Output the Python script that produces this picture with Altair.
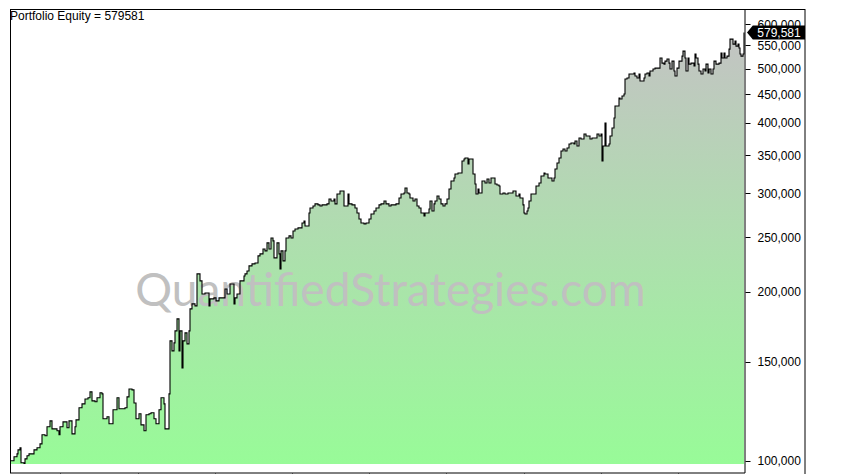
import altair as alt
import pandas as pd

# time index (bars) and portfolio equity
bars = [0, 3, 6, 7, 9, 10, 13, 14, 16, 18, 21, 23, 26, 29, 31, 34, 36, 39, 41, 44,
        46, 48, 49, 52, 56, 58, 61, 64, 65, 68, 71, 74, 77, 79, 81, 84, 86, 89, 91, 92,
        96, 98, 102, 106, 108, 112, 114, 116, 118, 121, 123, 125, 128, 130, 133, 135, 138, 140, 143, 145,
        148, 150, 153, 154, 156, 158, 159, 161, 163, 164, 166, 168, 169, 171, 172, 174, 176, 178, 179, 181,
        184, 186, 188, 189, 191, 194, 198, 199, 203, 205, 208, 211, 214, 216, 219, 223, 224, 226, 229, 233,
        234, 236, 238, 241, 244, 247, 249, 252, 254, 256, 258, 260, 262, 263, 265, 266, 268, 269, 270, 272,
        274, 275, 278, 280, 282, 284, 287, 289, 291, 293, 294, 296, 298, 299, 302, 304, 307, 309, 311, 314,
        316, 318, 320, 323, 324, 326, 329, 332, 333, 335, 337, 338, 341, 344, 346, 348, 350, 353, 355, 358,
        360, 363, 365, 368, 370, 373, 375, 378, 380, 383, 385, 388, 390, 393, 394, 396, 398, 399, 402, 404,
        406, 408, 410, 413, 414, 416, 418, 419, 421, 423, 424, 426, 428, 430, 432, 434, 436, 438, 440, 443,
        444, 447, 449, 451, 453, 454, 457, 458, 460, 462, 464, 465, 467, 468, 471, 474, 476, 478, 480, 483,
        484, 486, 488, 489, 492, 494, 497, 499, 502, 504, 505, 508, 509, 512, 513, 514, 516, 517, 518, 520,
        523, 525, 527, 528, 530, 533, 534, 537, 539, 541, 543, 544, 546, 548, 550, 552, 554, 556, 558, 560,
        563, 564, 566, 568, 570, 573, 575, 578, 579, 581, 584, 586, 588, 590, 591, 592, 594, 595, 597, 598,
        599, 601, 603, 604, 606, 608, 609, 611, 613, 614, 616, 618, 620, 623, 624, 626, 628, 629, 631, 633,
        634, 636, 638, 639, 642, 644, 647, 649, 651, 653, 654, 656, 658, 659, 661, 663, 664, 666, 668, 669,
        671, 672, 674, 675, 677, 678, 680, 683, 684, 685, 687, 688, 690, 692, 694, 695, 697, 698, 700, 702,
        703, 705, 707, 708, 710, 711, 713, 714, 716, 718, 719, 722, 724, 725, 727, 728, 729, 730, 732, 733]

equity = [100000, 101700, 102900, 104600, 105500, 99200, 98900, 100800, 102100, 102900,
          102900, 104600, 105500, 107200, 111300, 110800, 115000, 117800, 114000, 114000,
          113100, 111300, 115000, 117300, 114500, 117800, 111700, 115000, 118300, 124300,
          126300, 128900, 129500, 132700, 127900, 127400, 129500, 132200, 131600, 118800,
          119800, 116400, 123300, 129500, 123800, 123800, 124300, 130000, 134300, 133800,
          126800, 118800, 121300, 115900, 113100, 120800, 121300, 121800, 118800, 116400,
          123300, 129500, 126300, 114000, 114000, 131600, 163600, 157000, 162200, 170400,
          179000, 157000, 170400, 146400, 163600, 169000, 161600, 170400, 186500, 190400,
          188800, 215300, 215300, 209200, 198300, 199100, 188800, 194300, 195100, 192700,
          195100, 195100, 202400, 198300, 206600, 190400, 195100, 198300, 209200, 213500,
          215300, 217900, 222500, 224300, 225200, 231800, 233700, 238400, 236600, 244500,
          238400, 249500, 246500, 229900, 229900, 244500, 233700, 219700, 236600, 227100,
          236600, 249500, 251600, 249500, 256800, 258900, 260000, 260000, 265300, 267500,
          262100, 262100, 276400, 282200, 284500, 287000, 285800, 284500, 285800, 285800,
          287000, 292800, 290400, 292800, 287000, 298800, 302500, 302500, 284500, 284500,
          298800, 287000, 285800, 282200, 276400, 269700, 265300, 264300, 265300, 269700,
          275300, 278700, 282200, 285800, 287000, 290400, 287000, 284500, 285800, 285800,
          287000, 294000, 298800, 300100, 306300, 300100, 298800, 294000, 290400, 292800,
          284500, 282200, 276400, 273000, 276400, 276400, 281000, 290400, 278700, 287000,
          290400, 296400, 292800, 287000, 284500, 287000, 292800, 305000, 315200, 319100,
          324400, 325700, 325700, 342100, 345000, 346400, 338000, 345000, 345000, 324400,
          311300, 298800, 305000, 300100, 315200, 312600, 317800, 312600, 319100, 319100,
          311300, 310100, 308800, 298800, 300100, 298800, 300100, 300100, 302500, 302500,
          296400, 298800, 294000, 285800, 276400, 275300, 278700, 282200, 290400, 298800,
          298800, 308800, 308800, 312600, 321800, 325700, 324400, 319100, 319100, 315200,
          319100, 331100, 339400, 346400, 356500, 359400, 356500, 360900, 366900, 368400,
          366900, 371400, 363900, 376000, 374400, 382200, 379100, 379100, 374400, 376000,
          376000, 382200, 379100, 382200, 342100, 363900, 399800, 363900, 363900, 366900,
          379100, 391700, 408100, 428700, 428700, 442900, 441100, 446600, 450300, 478900,
          480900, 488800, 488800, 490800, 484900, 480900, 488800, 475000, 475000, 480900,
          488800, 490800, 484900, 494800, 498900, 500900, 500900, 521900, 511300, 509200,
          515500, 519800, 511300, 498900, 515500, 494800, 484900, 500900, 515500, 515500,
          526100, 537100, 521900, 494800, 521900, 509200, 511300, 505100, 530600, 521900,
          509200, 494800, 488800, 498900, 494800, 509200, 490800, 498900, 488800, 498900,
          515500, 509200, 509200, 511300, 532700, 521900, 532700, 521900, 526100, 541500,
          564200, 552700, 559600, 548200, 552700, 543800, 530600, 526100, 530600, 579581]

area_base = 98700
y_ticks = [100000, 150000, 200000, 250000, 300000, 350000, 400000, 450000, 500000, 550000, 600000]
x_ticks = [49.3, 126.5, 203.7, 280.9, 358.1, 435.3, 512.5, 589.7, 666.9]
title_text = ["Portfolio Equity = 579581"]
watermark = ["QuantifiedStrategies.com"]
last_label = ["579,581"]
last_value = [579581]

df = pd.DataFrame({"bar": bars, "equity": equity})
df["base"] = area_base
df_last = pd.DataFrame({"equity": last_value, "label": last_label})

FONT = "Liberation Sans"
W, H = 735, 455      # plot area; area fill base = bottom of the y range
FRAME_B = 464        # bottom frame line a few px below the fill

x_scale = alt.Scale(domain=[-1, 734], nice=False, zero=False)
y_scale = alt.Scale(type="log", domain=[area_base, 638300], nice=False)

x_enc = alt.X("bar:Q", scale=x_scale,
              axis=alt.Axis(values=x_ticks, labels=False, title=None, grid=False,
                            domain=False, ticks=True, tickSize=5, tickColor="black",
                            offset=FRAME_B - H))
y_axis = alt.Axis(orient="right", values=y_ticks, format=",d", title=None,
                  grid=False, domain=False, tickSize=5, tickColor="black",
                  labelFont=FONT, labelFontSize=12, labelColor="black",
                  labelPadding=7, labelOverlap=False, labelFlush=False)
y_enc = alt.Y("equity:Q", scale=y_scale, axis=y_axis)

gradient = alt.Gradient(
    gradient="linear",
    stops=[alt.GradientStop(color="#98FB98", offset=0),
           alt.GradientStop(color="#C3C3C3", offset=1)],
    x1=1, x2=1, y1=1, y2=0)

area = alt.Chart(df).mark_area(interpolate="step-after", color=gradient, opacity=1).encode(
    x=x_enc,
    y=alt.Y("equity:Q", scale=y_scale, axis=y_axis, stack=None),
    y2=alt.Y2("base:Q"))

wm = alt.Chart(pd.DataFrame({"t": watermark})).mark_text(
    font="Lato", fontSize=46, fontWeight="normal", color="#C0C0C0",
    align="center", baseline="alphabetic").encode(
    text="t:N", x=alt.value(380.5), y=alt.value(297))

line = alt.Chart(df).mark_line(interpolate="step-after", color="black", strokeWidth=1.1).encode(
    x=x_enc, y=y_enc)

title = alt.Chart(pd.DataFrame({"t": title_text})).mark_text(
    font=FONT, fontSize=12, color="black", align="left", baseline="alphabetic").encode(
    text="t:N", x=alt.value(0), y=alt.value(11))

tag = alt.Chart(df_last).mark_point(
    shape="M-1,0 L-0.8,-0.24 L1,-0.24 L1,0.24 L-0.8,0.24 Z",
    size=3364, filled=True, color="black", opacity=1, strokeWidth=0).encode(
    x=alt.value(766), y=y_enc)

tag_text = alt.Chart(df_last).mark_text(
    font=FONT, fontSize=12, color="white", align="center", baseline="middle").encode(
    text="label:N", x=alt.value(769), y=y_enc)

frame = pd.DataFrame({"k": [0]})
def hrule(x1, x2, y):
    return alt.Chart(frame).mark_rule(color="black", strokeWidth=1).encode(
        x=alt.value(x1), x2=alt.value(x2), y=alt.value(y))
def vrule(x, y1, y2):
    return alt.Chart(frame).mark_rule(color="black", strokeWidth=1).encode(
        x=alt.value(x), y=alt.value(y1), y2=alt.value(y2))

frames = [hrule(0, 795, 0.5), hrule(0, W, FRAME_B), vrule(0.5, 0, FRAME_B),
          vrule(W, 0, FRAME_B), vrule(795, 0, 475)]

chart = alt.layer(area, wm, line, title, tag, tag_text, *frames).properties(
    width=W, height=H,
    padding={"left": 0, "top": 0, "right": 5, "bottom": 0},
    background="white",
).configure_view(stroke=None)

chart.save("out.html", embed_options={"renderer": "svg", "actions": False})
